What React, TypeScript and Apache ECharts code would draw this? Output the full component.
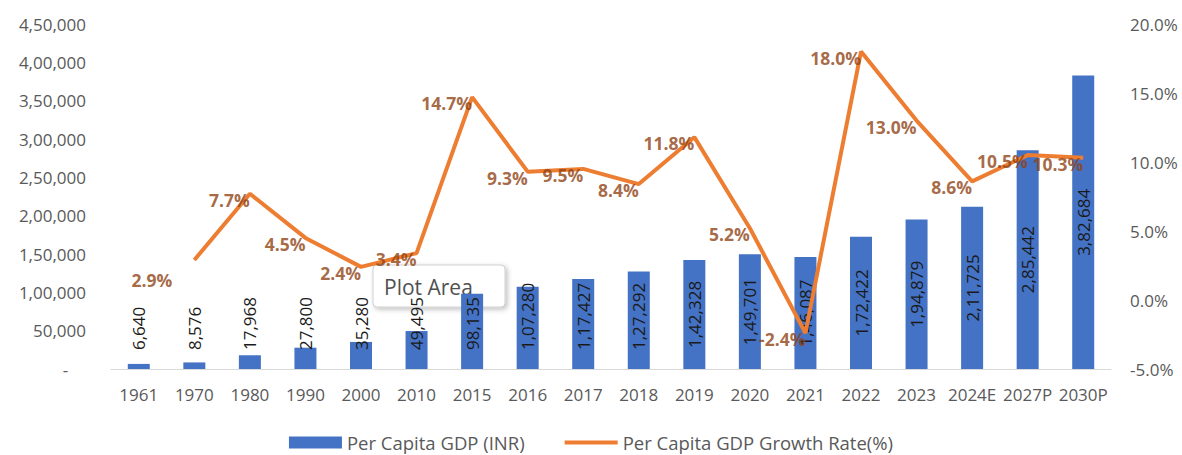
import React, { useEffect, useRef } from "react";
import * as echarts from "echarts";

const categories = ["1961", "1970", "1980", "1990", "2000", "2010", "2015", "2016", "2017", "2018", "2019", "2020", "2021", "2022", "2023", "2024E", "2027P", "2030P"];
const gdpValues = [6640, 8576, 17968, 27800, 35280, 49495, 98135, 107280, 117427, 127292, 142328, 149701, 146087, 172422, 194879, 211725, 285442, 382684];
const growthValues: (number | null)[] = [null, 2.9, 7.7, 4.5, 2.4, 3.4, 14.7, 9.3, 9.5, 8.4, 11.8, 5.2, -2.4, 18.0, 13.0, 8.6, 10.5, 10.3];
const seriesNames = ["Per Capita GDP (INR)", "Per Capita GDP Growth Rate(%)"];

function inr(n: number): string {
  const s = Math.round(n).toString();
  if (s.length <= 3) return s;
  const last3 = s.slice(-3);
  const rest = s.slice(0, -3).replace(/\B(?=(\d{2})+(?!\d))/g, ",");
  return rest + "," + last3;
}

const FONT = "'Open Sans', 'Noto Sans', sans-serif";

export default function App() {
  const ref = useRef<HTMLDivElement>(null);
  useEffect(() => {
    if (!ref.current) return;
    const chart = echarts.init(ref.current, null, { renderer: "svg" });
    const barData = gdpValues.map((v) => ({
      value: v,
      label:
        v >= 140000
          ? { position: "inside", align: "center", verticalAlign: "middle" }
          : { position: "insideBottom", align: "left", verticalAlign: "middle", distance: 19 },
    }));
    const labelData = growthValues.map((v, i) =>
      i === 1 ? { value: v, label: { offset: [-22, 20] } } : { value: v }
    );
    chart.setOption({
      animation: false,
      textStyle: { fontFamily: FONT },
      grid: { left: 111, right: 71, top: 24, bottom: 86, containLabel: false },
      legend: {
        left: "center",
        top: 433,
        padding: 0,
        itemWidth: 53,
        itemHeight: 12,
        itemGap: 40,
        textStyle: { fontFamily: FONT, fontSize: 18.5, lineHeight: 18, color: "#595959" },
        data: [
          { name: seriesNames[0], icon: "rect" },
          { name: seriesNames[1], icon: "path://M0,0 L53,0 L53,4 L0,4 Z" },
        ],
      },
      xAxis: {
        type: "category",
        data: categories,
        axisLine: { show: true, lineStyle: { color: "#d9d9d9", width: 1 } },
        axisTick: { show: false },
        axisLabel: { color: "#595959", fontSize: 17, fontFamily: FONT, margin: 17, interval: 0 },
      },
      yAxis: [
        {
          type: "value",
          min: 0,
          max: 450000,
          interval: 50000,
          splitLine: { show: false },
          axisLine: { show: false },
          axisTick: { show: false },
          axisLabel: {
            color: "#595959",
            fontSize: 17,
            fontFamily: FONT,
            margin: 25,
            formatter: (v: number) => (v === 0 ? "-    " : inr(v)),
          },
        },
        {
          type: "value",
          min: -5,
          max: 20,
          interval: 5,
          splitLine: { show: false },
          axisLine: { show: false },
          axisTick: { show: false },
          axisLabel: {
            color: "#595959",
            fontSize: 17,
            fontFamily: FONT,
            margin: 19,
            formatter: (v: number) => v.toFixed(1) + "%",
          },
        },
      ],
      series: [
        {
          name: seriesNames[0],
          type: "bar",
          data: barData,
          barWidth: 22,
          itemStyle: { color: "#4472C4" },
          label: {
            show: true,
            rotate: 90,
            color: "#1a1a1a",
            fontSize: 17,
            fontFamily: FONT,
            formatter: (p: any) => inr(p.value),
          },
          z: 2,
        },
        {
          name: seriesNames[1],
          type: "line",
          yAxisIndex: 1,
          data: growthValues,
          symbol: "none",
          connectNulls: false,
          lineStyle: { color: "#ED7D31", width: 4 },
          itemStyle: { color: "#ED7D31" },
          z: 3,
        },
        {
          name: "growthLabels",
          type: "scatter",
          yAxisIndex: 1,
          data: labelData,
          symbolSize: 0,
          itemStyle: { color: "rgba(0,0,0,0)" },
          label: {
            show: true,
            position: "left",
            distance: 0,
            offset: [0, 6],
            color: "#8F4314",
            fontWeight: "bold",
            fontSize: 17.5,
            fontFamily: FONT,
            formatter: (p: any) => (p.value == null ? "" : Number(p.value).toFixed(1) + "%"),
          },
          z: 4,
        },
      ],
      graphic: [
        {
          type: "group",
          z: 100,
          children: [
            {
              type: "rect",
              shape: { x: 373, y: 265, width: 132, height: 42, r: 4 },
              style: {
                fill: "#ffffff",
                stroke: "#cfcfcf",
                lineWidth: 1,
                shadowBlur: 5,
                shadowOffsetX: 2,
                shadowOffsetY: 2,
                shadowColor: "rgba(0,0,0,0.25)",
              },
            },
            {
              type: "text",
              x: 384,
              y: 287,
              style: {
                text: "Plot Area",
                fill: "#505050",
                fontSize: 21,
                fontFamily: FONT,
                verticalAlign: "middle",
                align: "left",
              },
            },
          ],
        },
      ],
    });
    return () => chart.dispose();
  }, []);
  return <div ref={ref} style={{ position: "absolute", left: 0, top: 0, width: 1182, height: 455 }} />;
}
